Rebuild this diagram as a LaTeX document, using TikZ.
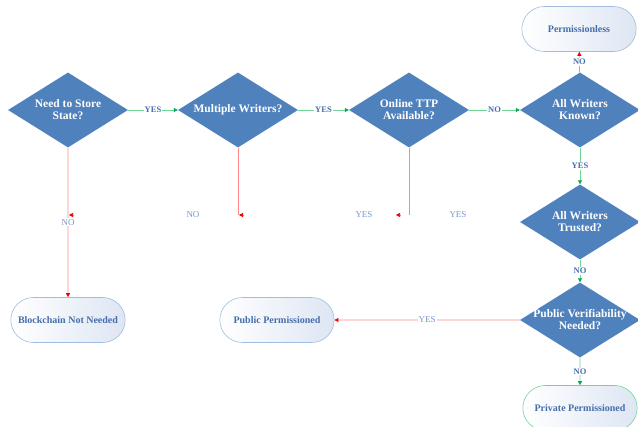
\documentclass[tikz,border=0pt]{standalone}
\usepackage{fontspec}
\setmainfont{Liberation Serif}
\usetikzlibrary{arrows.meta, positioning, shapes.geometric, shapes.misc}
\definecolor{decblue}{RGB}{79,129,189}
\definecolor{termline}{RGB}{160,188,222}
\definecolor{termfill}{RGB}{222,230,243}
\definecolor{termtext}{RGB}{70,110,170}
\definecolor{labblue}{RGB}{70,110,175}
\definecolor{loosblue}{RGB}{120,150,200}
\definecolor{goline}{RGB}{110,215,150}
\definecolor{gotip}{RGB}{0,170,80}
\definecolor{stopline}{RGB}{255,135,135}
\definecolor{stoptip}{RGB}{240,0,0}

\begin{document}
\begin{tikzpicture}[x=1pt, y=-1pt,
  decision/.style={shape=diamond, fill=decblue, aspect=1.5, inner sep=-6pt, minimum width=120pt, minimum height=75pt, text=white, align=center, font=\bfseries\fontsize{11.5}{12}\selectfont},
  terminal/.style={rounded rectangle, draw=termline, line width=0.6pt, left color=white, right color=termfill, minimum width=121pt, minimum height=45pt, text=termtext, font=\bfseries\fontsize{10}{12}\selectfont},
  yesno/.style={fill=white, inner sep=1pt, text=labblue, font=\bfseries\fontsize{8.5}{10}\selectfont},
  looselabel/.style={fill=white, inner sep=1pt, text=loosblue, font=\fontsize{9}{10}\selectfont},
  goarrow/.style={draw=goline, line width=0.6pt, -{Triangle[length=4pt, width=4pt, color=gotip]}},
  stoparrow/.style={draw=stopline, line width=0.6pt, -{Triangle[length=4pt, width=4pt, color=stoptip]}}
]
  \useasboundingbox (0,0) rectangle (638,427);

  % decisions
  \node[decision] (store) at (68,110) {Need to Store\\State?};
  \node[decision] (writers) at (238,110) {Multiple Writers?};
  \node[decision] (ttp) at (409,110) {Online TTP\\Available?};
  \node[decision] (known) at (580,110) {All Writers\\Known?};
  \node[decision] (trusted) at (580,222) {All Writers\\Trusted?};
  \node[decision] (verif) at (580,320) {Public Verifiability\\Needed?};

  % outcomes
  \node[terminal] (pless) at (579,29) {Permissionless};
  \node[terminal] (nochain) at (68,320) {Blockchain Not Needed};
  \node[terminal] (public) at (277,320) {Public Permissioned};
  \node[terminal, draw=goline] (private) at (580,408) {Private Permissioned};

  % loose ends
  \coordinate (store stub) at (74,215);
  \coordinate (store tip) at (69,215);
  \coordinate (writers end) at (238,215);
  \coordinate (writers stub) at (243,215);
  \coordinate (writers tip) at (239,215);
  \coordinate (ttp end) at (409,215);
  \coordinate (ttp stub) at (401,215);
  \coordinate (ttp tip) at (396,215);

  \draw[goarrow] (store) -- (writers) node[midway, yesno] {YES};
  \draw[goarrow] (writers) -- (ttp) node[midway, yesno] {YES};
  \draw[goarrow] (ttp) -- (known) node[midway, yesno] {NO};
  \draw[stoparrow] (known) -- (pless) node[midway, yesno] {NO};
  \draw[goarrow] (known) -- (trusted) node[midway, yesno] {YES};
  \draw[goarrow] (trusted) -- (verif) node[midway, yesno] {NO};
  \draw[goarrow] (verif) -- (private) node[midway, yesno] {NO};
  \draw[stoparrow] (verif) -- (public) node[midway, looselabel] {YES};
  \draw[stoparrow] (store) -- (nochain) node[midway, looselabel] {NO};

  \draw[stopline, line width=0.6pt] (writers) -- (writers end);
  \draw[stopline, line width=0.6pt] (ttp) -- (ttp end);
  \draw[stoparrow] (store stub) -- (store tip);
  \draw[stoparrow] (writers stub) -- (writers tip);
  \draw[stoparrow] (ttp stub) -- (ttp tip);

  \node[looselabel] (no2) at (193,215) {NO};
  \node[looselabel] (yes3) at (364,215) {YES};
  \node[looselabel] (yes4) at (458,215) {YES};
\end{tikzpicture}
\end{document}
